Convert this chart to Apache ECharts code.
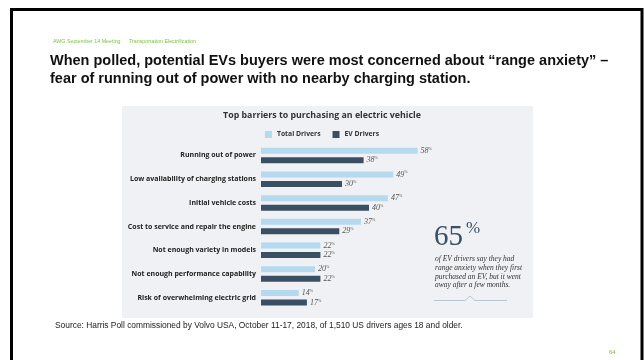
<!DOCTYPE html>
<html>
<head>
<meta charset="utf-8">
<script src="https://cdn.jsdelivr.net/npm/echarts@6/dist/echarts.min.js"></script>
<style>
  html, body { margin: 0; padding: 0; background: #fff; }
  #main { width: 644px; height: 360px; }
</style>
</head>
<body>
<div id="main"></div>
<script>
// survey data
var categories = [
  'Running out of power',
  'Low availability of charging stations',
  'Initial vehicle costs',
  'Cost to service and repair the engine',
  'Not enough variety in models',
  'Not enough performance capability',
  'Risk of overwhelming electric grid'
];
var totalDrivers = [58, 49, 47, 37, 22, 20, 14];
var evDrivers = [38, 30, 40, 29, 22, 22, 17];
var seriesNames = ['Total Drivers', 'EV Drivers'];
var noteLines = [
  'of EV drivers say they had',
  'range anxiety when they first',
  'purchased an EV, but it went',
  'away after a few months.'
];

var chart = echarts.init(document.getElementById('main'), null, { renderer: 'canvas' });

var LIGHT = '#b5d9ef';
var DARK = '#3a4f63';
var SERIF = '"Liberation Serif", "DejaVu Serif", serif';
var SANS = '"Open Sans", Lato, sans-serif';
var HEAD = '"Liberation Sans", Arial, sans-serif';

function valueLabel() {
  return {
    show: true,
    position: 'right',
    distance: 3,
    formatter: function (p) { return '{v|' + p.value + '}{p|%}'; },
    rich: {
      v: { fontFamily: SERIF, fontStyle: 'italic', fontSize: 8, color: '#555' },
      p: { fontFamily: SERIF, fontSize: 4, color: '#555', verticalAlign: 'top', padding: [0, 0, 4, 0] }
    }
  };
}

var noteText = noteLines.map(function (t, i) {
  return {
    type: 'text',
    left: 435,
    top: 255 + i * 8.8,
    style: { text: t, font: 'italic 7.5px ' + SERIF, fill: '#333' }
  };
});

var option = {
  backgroundColor: '#ffffff',
  animation: false,
  color: [LIGHT, DARK],
  title: {
    text: 'Top barriers to purchasing an electric vehicle',
    left: 'center',
    top: 106,
    textStyle: { fontFamily: SANS, fontWeight: 'bold', fontSize: 8.8, color: '#333' }
  },
  legend: {
    data: seriesNames,
    left: 'center',
    top: 126,
    itemWidth: 7,
    itemHeight: 7,
    itemGap: 12,
    icon: 'rect',
    textStyle: { fontFamily: SANS, fontWeight: 'bold', fontSize: 6.8, color: '#333' }
  },
  grid: { left: 261, top: 143.6, width: 270, height: 166, containLabel: false },
  xAxis: {
    type: 'value',
    min: 0,
    max: 100,
    show: false
  },
  yAxis: {
    type: 'category',
    data: categories,
    inverse: true,
    axisLine: { show: false },
    axisTick: { show: false },
    axisLabel: {
      margin: 5,
      fontFamily: SANS,
      fontWeight: 'bold',
      fontSize: 7,
      color: '#222'
    }
  },
  series: [
    {
      name: seriesNames[0],
      type: 'bar',
      data: totalDrivers,
      barWidth: 6,
      barGap: '58%',
      label: valueLabel()
    },
    {
      name: seriesNames[1],
      type: 'bar',
      data: evDrivers,
      barWidth: 6,
      label: valueLabel()
    }
  ],
  graphic: [
    // slide frame
    { type: 'rect', z: -10, shape: { x: 11.5, y: 9.5, width: 630.5, height: 360 },
      style: { fill: 'none', stroke: '#000', lineWidth: 3 } },
    // grey panel behind chart
    { type: 'rect', z: -5, shape: { x: 122, y: 106, width: 411, height: 212 },
      style: { fill: '#eff1f4' } },
    { type: 'text', left: 53, top: 39,
      style: { text: 'AWG September 14 Meeting', font: '5.3px ' + HEAD, fill: '#7cc242' } },
    { type: 'text', left: 129, top: 39,
      style: { text: 'Transportation Electrification', font: '5.3px ' + HEAD, fill: '#7cc242' } },
    { type: 'text', left: 50, top: 52,
      style: { text: 'When polled, potential EVs buyers were most concerned about \u201crange anxiety\u201d \u2013\nfear of running out of power with no nearby charging station.',
        font: 'bold 14.5px ' + HEAD, fill: '#111', lineHeight: 18 } },
    { type: 'text', left: 55, top: 322,
      style: { text: 'Source: Harris Poll commissioned by Volvo USA, October 11-17, 2018, of 1,510 US drivers ages 18 and older.',
        font: '8.4px ' + HEAD, fill: '#222' } },
    { type: 'text', left: 609, top: 349,
      style: { text: '64', font: '6px ' + HEAD, fill: '#7cc242' } },
    // 65% callout
    { type: 'text', left: 434, top: 223,
      style: { text: '65', font: '29px ' + SERIF, fill: DARK } },
    { type: 'text', left: 466, top: 220,
      style: { text: '%', font: '17px ' + SERIF, fill: DARK } },
    { type: 'polyline', shape: { points: [[434, 300.5], [465, 300.5], [470, 296], [475, 300.5], [507, 300.5]] },
      style: { stroke: '#a9bccb', lineWidth: 0.8, fill: 'none' } }
  ].concat(noteText)
};

chart.setOption(option);
</script>
</body>
</html>
